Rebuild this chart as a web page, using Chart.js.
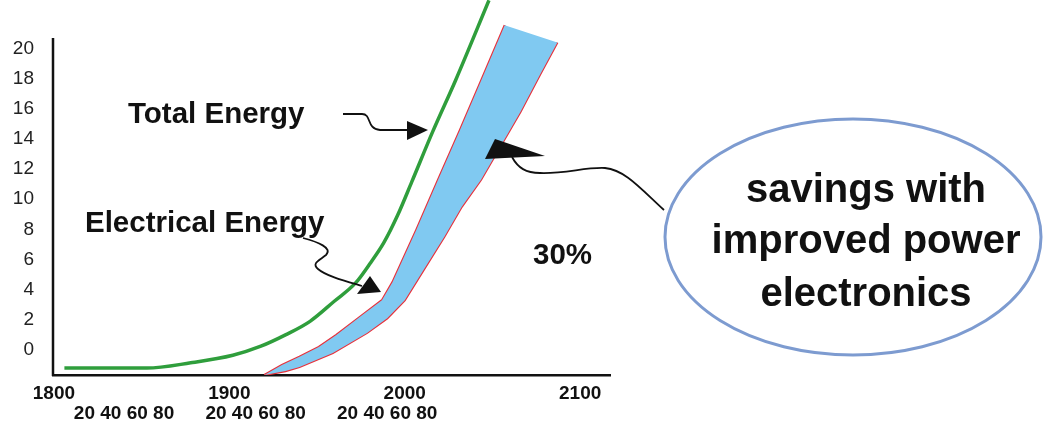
<!DOCTYPE html>
<html>
<head>
<meta charset="utf-8">
<title>Total vs electrical energy</title>
<script src="https://cdn.jsdelivr.net/npm/chart.js@4.4.1/dist/chart.umd.min.js"></script>
<style>
  html, body { margin: 0; padding: 0; background: #fff; }
  #wrap { width: 1043px; height: 430px; position: relative; }
</style>
</head>
<body>
<div id="wrap"><canvas id="chart"></canvas></div>
<script>
// total energy (green curve)
const totalYears = [1806, 1853, 1878, 1902, 1918, 1932, 1946, 1960, 1972, 1980, 1988, 1996, 2004, 2016, 2029, 2048];
const totalValues = [-1.2, -1.2, -0.85, -0.35, 0.25, 1.0, 1.9, 3.25, 4.45, 5.7, 7.1, 8.95, 11.15, 14.5, 17.9, 23.2];

// electrical energy, top edge of the savings band (red)
const elecYears = [1920, 1930, 1940, 1951, 1961, 1974.5, 1987, 1993, 2006.5, 2019, 2031.5, 2044, 2057];
const elecValues = [-1.66, -1.0, -0.45, 0.2, 1.0, 2.2, 3.3, 4.5, 7.95, 11.3, 14.6, 18.0, 21.55];

// electrical energy with improved power electronics, bottom edge (red)
const savedYears = [1920, 1932, 1940, 1959, 1978.5, 1990, 2000, 2011.5, 2022.5, 2032.5, 2043.5, 2054, 2066, 2077, 2087];
const savedValues = [-1.66, -1.4, -1.13, -0.2, 1.13, 2.1, 3.3, 5.45, 7.5, 9.5, 11.3, 13.4, 15.8, 18.25, 20.4];

// axis ticks
const centuryTicks = [1800, 1900, 2000, 2100];
const decadeTicks = [1840, 1915, 1990];
const decadeLabels = ["20 40 60 80", "20 40 60 80", "20 40 60 80"];
const valueTicks = [0, 2, 4, 6, 8, 10, 12, 14, 16, 18, 20];

const X_MIN = 1799.5, X_MAX = 2117;
const Y_MIN = -1.66, Y_MAX = 23.22;
const Y_AXIS_TOP = 20.7;

const FONT = '"Liberation Sans", Arial, sans-serif';
const GREEN = "#2f9e3c";
const RED = "#e8303a";
const BLUE = "#80c9f1";

const pts = (xs, ys) => xs.map((x, i) => ({ x, y: ys[i] }));

const upper = pts(elecYears, elecValues);
const lower = pts(savedYears, savedValues);
const band = upper.concat(lower.slice().reverse());

function tri(ctx, p) {
  ctx.beginPath();
  ctx.moveTo(p[0][0], p[0][1]);
  ctx.lineTo(p[1][0], p[1][1]);
  ctx.lineTo(p[2][0], p[2][1]);
  ctx.closePath();
  ctx.fill();
}

const notes = {
  id: "notes",
  afterDraw(chart) {
    const { ctx, chartArea, scales } = chart;
    ctx.save();

    // y axis line (stops short of the top like the original)
    ctx.strokeStyle = "#111";
    ctx.lineWidth = 2.5;
    ctx.beginPath();
    ctx.moveTo(chartArea.left, scales.y.getPixelForValue(Y_AXIS_TOP));
    ctx.lineTo(chartArea.left, chartArea.bottom + 1);
    ctx.stroke();

    // pointers
    ctx.strokeStyle = "#111";
    ctx.fillStyle = "#111";
    ctx.lineWidth = 1.8;

    ctx.beginPath();
    ctx.moveTo(343, 114);
    ctx.lineTo(362, 114);
    ctx.bezierCurveTo(372, 114, 366, 129, 380, 130);
    ctx.lineTo(410, 130);
    ctx.stroke();
    tri(ctx, [[407, 121], [407, 140], [428, 130]]);

    ctx.beginPath();
    ctx.moveTo(303, 238);
    ctx.bezierCurveTo(318, 242, 333, 248, 326, 255);
    ctx.bezierCurveTo(320, 260, 311, 263, 318, 269);
    ctx.bezierCurveTo(326, 276, 345, 281, 362, 286);
    ctx.stroke();
    tri(ctx, [[357, 294], [370, 276], [381, 292]]);

    ctx.beginPath();
    ctx.moveTo(512, 157);
    ctx.bezierCurveTo(518, 168, 526, 173, 540, 173);
    ctx.bezierCurveTo(565, 174, 585, 167, 605, 168);
    ctx.bezierCurveTo(625, 170, 640, 188, 664, 210);
    ctx.stroke();
    tri(ctx, [[485, 159], [495, 139], [545, 156]]);

    // ellipse
    ctx.strokeStyle = "#7d9bd0";
    ctx.lineWidth = 3;
    ctx.beginPath();
    ctx.ellipse(853, 237, 188, 118, 0, 0, Math.PI * 2);
    ctx.stroke();

    // labels
    ctx.fillStyle = "#111";
    ctx.textBaseline = "alphabetic";
    ctx.textAlign = "left";
    ctx.font = "bold 29.5px " + FONT;
    ctx.fillText("Total Energy", 128, 123);
    ctx.fillText("Electrical Energy", 85, 232);
    ctx.fillText("30%", 533, 264);

    ctx.textAlign = "center";
    ctx.font = "bold 40px " + FONT;
    ctx.fillText("savings with", 866, 202);
    ctx.fillText("improved power", 866, 253);
    ctx.fillText("electronics", 866, 306);

    ctx.restore();
  }
};

new Chart(document.getElementById("chart"), {
  type: "line",
  data: {
    datasets: [
      {
        label: "savings",
        data: band,
        xAxisID: "x", yAxisID: "y",
        fill: "shape",
        backgroundColor: BLUE,
        borderColor: "rgba(0,0,0,0)",
        borderWidth: 0,
        tension: 0,
        pointRadius: 0
      },
      {
        label: "Electrical Energy",
        data: upper,
        xAxisID: "x", yAxisID: "y",
        borderColor: RED,
        borderWidth: 2.2,
        tension: 0,
        pointRadius: 0,
        fill: false
      },
      {
        label: "with improved power electronics",
        data: lower,
        xAxisID: "x", yAxisID: "y",
        borderColor: RED,
        borderWidth: 2.2,
        tension: 0,
        pointRadius: 0,
        fill: false
      },
      {
        label: "Total Energy",
        data: pts(totalYears, totalValues),
        xAxisID: "x", yAxisID: "y",
        borderColor: GREEN,
        borderWidth: 3.5,
        cubicInterpolationMode: "monotone",
        pointRadius: 0,
        fill: false
      }
    ]
  },
  options: {
    responsive: true,
    maintainAspectRatio: false,
    animation: false,
    layout: { padding: { left: 0, top: 0, right: 433, bottom: 0 } },
    plugins: { legend: { display: false }, tooltip: { enabled: false } },
    scales: {
      x: {
        type: "linear",
        position: "bottom",
        weight: 0,
        min: X_MIN, max: X_MAX,
        grid: { display: false, drawTicks: false },
        border: { display: true, color: "#111", width: 2.5 },
        afterBuildTicks: (s) => { s.ticks = centuryTicks.map((v) => ({ value: v })); },
        afterFit: (s) => { s.height = 25; s.paddingLeft = 0; s.paddingRight = 0; },
        ticks: {
          autoSkip: false, maxRotation: 0, padding: 7,
          color: "#111",
          font: { family: FONT, size: 19, weight: "bold" },
          callback: (v) => String(v)
        }
      },
      x2: {
        type: "linear",
        position: "bottom",
        weight: 1,
        min: X_MIN, max: X_MAX,
        grid: { display: false, drawTicks: false },
        border: { display: false },
        afterBuildTicks: (s) => { s.ticks = decadeTicks.map((v) => ({ value: v })); },
        afterFit: (s) => { s.height = 30; s.paddingLeft = 0; s.paddingRight = 0; },
        ticks: {
          autoSkip: false, maxRotation: 0, padding: 2,
          color: "#111",
          font: { family: FONT, size: 19, weight: "bold" },
          callback: (v, i) => decadeLabels[i]
        }
      },
      y: {
        type: "linear",
        min: Y_MIN, max: Y_MAX,
        grid: { display: false, drawTicks: false },
        border: { display: false },
        afterBuildTicks: (s) => { s.ticks = valueTicks.map((v) => ({ value: v })); },
        afterFit: (s) => { s.width = 53; s.paddingTop = 0; s.paddingBottom = 0; },
        ticks: {
          padding: 19,
          color: "#222",
          font: { family: FONT, size: 19 },
          callback: (v) => String(v)
        }
      }
    }
  },
  plugins: [notes]
});
</script>
</body>
</html>
